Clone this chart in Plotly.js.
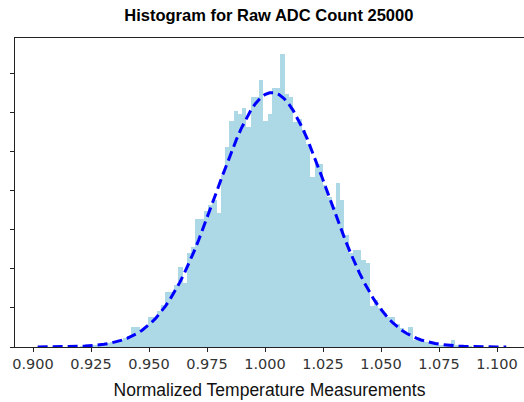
<!DOCTYPE html>
<html>
<head>
<meta charset="utf-8">
<script src="https://cdn.plot.ly/plotly-3.0.1.min.js"></script>
<style>html,body{margin:0;padding:0;background:#fff;}#chart{width:524px;height:402px;}</style>
</head>
<body>
<div id="chart"></div>
<script>
// Histogram bins (density-like units)
const binStart = 0.9112;
const binWidth = 0.001836;
const binHeights = [
  0, 0, 0.05, 0, 0, 0.05, 0.05, 0.1, 0.1, 0.15,
  0.15, 0.25, 0.3, 0.35, 0.45, 0.55, 0.7, 1.3, 1.25, 1.1,
  1.3, 1.9, 1.9, 2.3, 2.7, 3.5, 3.5, 4.0, 5.1, 4.1,
  6.0, 6.4, 8.2, 8.2, 8.7, 9.1, 9.4, 8.6, 11.0, 12.8,
  14.5, 15.1, 14.9, 15.3, 14.1, 16.0, 16.0, 17.1, 14.5, 14.9,
  16.6, 16.6, 18.8, 16.2, 16.0, 14.4, 14.6, 13.9, 13.0, 10.9,
  11.7, 11.7, 10.4, 9.6, 9.0, 10.5, 9.4, 7.2, 6.0, 6.2,
  6.2, 5.6, 5.4, 2.6, 3.0, 2.5, 2.2, 1.9, 1.9, 1.5,
  1.2, 0.9, 1.3, 0.45, 0.6, 0.4, 0.35, 0.25, 0.2, 0.15,
  0.1, 0.1, 0.45, 0.1, 0.05, 0, 0.05, 0, 0, 0
];
// Fitted normal curve parameters
const fitMean = 1.003;
const fitSigma = 0.024;
const fitPeak = 16.3;
const curveMin = 0.902;
const curveMax = 1.104;
// Tick labels
const xTickVals = [0.900, 0.925, 0.950, 0.975, 1.000, 1.025, 1.050, 1.075, 1.100];
const xTickText = ["0.900", "0.925", "0.950", "0.975", "1.000", "1.025", "1.050", "1.075", "1.100"];
const yTickVals = [0, 2.5, 5, 7.5, 10, 12.5, 15, 17.5];

const binCenters = binHeights.map((_, k) => binStart + binWidth * (k + 0.5));
const curveX = [], curveY = [];
const nPts = 100;
for (let i = 0; i < nPts; i++) {
  const x = curveMin + (curveMax - curveMin) * i / (nPts - 1);
  curveX.push(x);
  curveY.push(fitPeak * Math.exp(-Math.pow(x - fitMean, 2) / (2 * fitSigma * fitSigma)));
}

const traces = [
  {type: 'bar', x: binCenters, y: binHeights, width: binWidth,
   marker: {color: '#add8e6', line: {width: 0}}, hoverinfo: 'skip', showlegend: false},
  {type: 'scatter', mode: 'lines', x: curveX, y: curveY,
   line: {color: '#0000ff', width: 3, dash: '10px,5px'}, showlegend: false}
];

const layout = {
  width: 524, height: 402,
  margin: {l: 15, r: 0, t: 38, b: 55},
  paper_bgcolor: '#ffffff', plot_bgcolor: '#ffffff',
  bargap: 0,
  title: {text: '<b>Histogram for Raw ADC Count 25000</b>', xref: 'container', yref: 'container',
          x: 0.513, y: 0.963, xanchor: 'center', yanchor: 'middle',
          font: {family: 'Liberation Sans, Arial, sans-serif', size: 16.5, color: '#000'}},
  xaxis: {range: [0.89224, 1.11164], tickvals: xTickVals, ticktext: xTickText,
          ticks: 'outside', ticklen: 4, tickwidth: 1, tickcolor: '#222',
          showline: true, linecolor: '#222', linewidth: 1, mirror: true,
          showgrid: false, zeroline: false,
          tickfont: {family: 'DejaVu Sans, sans-serif', size: 14.5, color: '#333'},
          title: {text: 'Normalized Temperature Measurements', standoff: 12,
                  font: {family: 'Liberation Sans, Arial, sans-serif', size: 17.5, color: '#111'}}},
  yaxis: {range: [0, 19.8], tickvals: yTickVals, showticklabels: false,
          ticks: 'outside', ticklen: 4, tickwidth: 1, tickcolor: '#222',
          showline: true, linecolor: '#222', linewidth: 1, mirror: false,
          showgrid: false, zeroline: false}
};

Plotly.newPlot('chart', traces, layout, {displayModeBar: false, staticPlot: true});
</script>
</body>
</html>
